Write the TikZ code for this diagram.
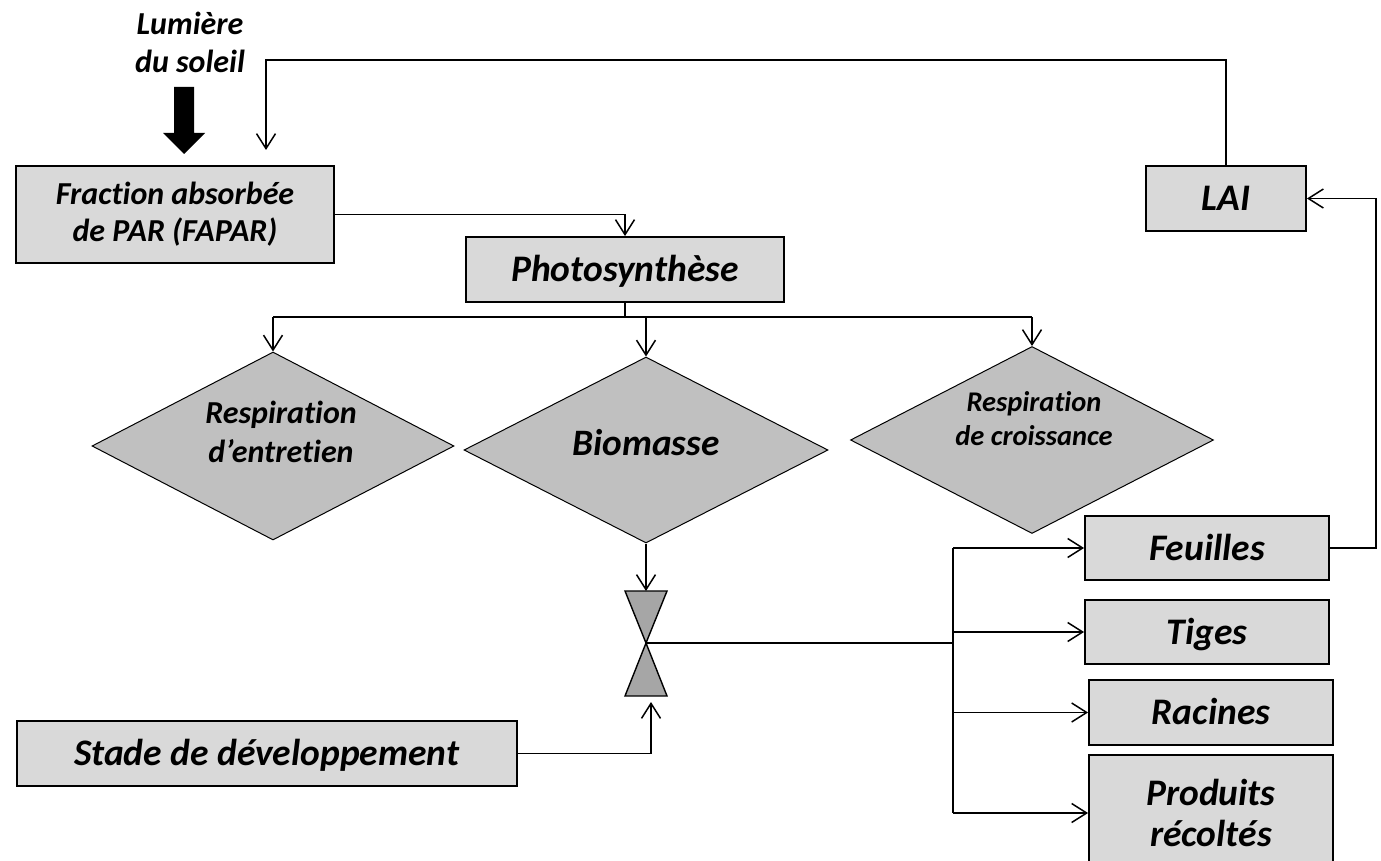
\documentclass[tikz,border=0pt]{standalone}
\usepackage{fontspec}
\setmainfont{Carlito}[Ligatures=CommonOff]
\usetikzlibrary{arrows.meta,shapes.geometric}
\definecolor{boxgray}{HTML}{D9D9D9}
\definecolor{diagray}{HTML}{C0C0C0}
\definecolor{valvegray}{HTML}{A6A6A6}
\begin{document}
\begin{tikzpicture}[x=1pt,y=-1pt,
  boxnode/.style={draw=black, line width=1.9pt, fill=boxgray, inner sep=0pt, align=center,
    font=\bfseries\itshape\fontsize{37.5}{41}\selectfont},
  single/.style={text height=24.5pt, text depth=0pt},
  dia/.style={diamond, draw=black, line width=1pt, fill=diagray, inner sep=0pt},
  lbl/.style={align=center, inner sep=0pt},
  conn/.style={line width=1.5pt, -{Straight Barb[length=15pt,width=19pt,line width=1.5pt]}},
  plain/.style={line width=1.5pt},
  valve/.style={draw=black, line width=1.4pt, fill=valvegray, line join=miter}
]
\useasboundingbox (0,0) rectangle (1381,861);
\clip (0,0) rectangle (1381,861);

% sunlight
\node[lbl, font=\bfseries\itshape\fontsize{32}{38}\selectfont] (sun) at (190,42) {Lumière\\du soleil};
\fill[black] (174,87) -- (194,87) -- (194,133) -- (205,133) -- (184,154) -- (163,133) -- (174,133) -- cycle;

% boxes
\node[boxnode, minimum width=318pt, minimum height=97pt, font=\bfseries\itshape\fontsize{32}{37}\selectfont] (fapar) at (175,214.5) {Fraction absorbée\\de PAR (FAPAR)};
\node[boxnode, single, minimum width=318pt, minimum height=65pt] (photo) at (625,269.5) {Photosynthèse};
\node[boxnode, single, minimum width=160pt, minimum height=65pt, font=\bfseries\itshape\fontsize{37.5}{40}\selectfont] (lai) at (1226,198.5) {LAI};
\node[boxnode, single, minimum width=244pt, minimum height=64pt] (feuilles) at (1207,548) {Feuilles};
\node[boxnode, single, minimum width=244pt, minimum height=64pt] (tiges) at (1207,632) {Tiges};
\node[boxnode, single, minimum width=244pt, minimum height=65pt] (racines) at (1211,712.5) {Racines};
\node[boxnode, minimum width=244pt, minimum height=116pt] (produits) at (1211,813) {Produits\\récoltés};
\node[boxnode, single, minimum width=500pt, minimum height=65pt] (stade) at (266.75,753.5) {Stade de développement};

% diamonds
\node[dia, minimum width=362pt, minimum height=188pt] (entretien) at (273,446) {};
\node[dia, minimum width=364pt, minimum height=186pt] (bio) at (646,450) {};
\node[dia, minimum width=363pt, minimum height=187pt] (croissance) at (1032,440) {};
\node[lbl, font=\bfseries\itshape\fontsize{32}{39}\selectfont] (entretienT) at (281,432) {Respiration\\d’entretien};
\node[lbl, single, font=\bfseries\itshape\fontsize{37.3}{40}\selectfont] (bioT) at (646,443) {Biomasse};
\node[lbl, font=\bfseries\itshape\fontsize{28.5}{34}\selectfont] (croissanceT) at (1034,419) {Respiration\\de croissance};

% valve (bow tie)
\coordinate (valvetop) at (646,591);
\coordinate (valve) at (646,643);
\coordinate (valvein) at (651,702);
\draw[valve] (625,591) -- (667,591) -- (valve) -- cycle;
\draw[valve] (valve) -- (625,696) -- (667,696) -- cycle;

% connectors
\coordinate (faparin) at (266,150);
\coordinate (laitop) at (1226,60);
\draw[conn] (lai.north) -- (laitop) -| (faparin);
\draw[conn] (fapar.east) -| (photo.north);

\coordinate (split) at (625,317);
\draw[plain] (photo.south) -- (split);
\draw[plain] (entretien.north |- split) -- (croissance.north |- split);
\draw[conn] (entretien.north |- split) -- (entretien.north);
\draw[conn] (bio.north |- split) -- (bio.north);
\draw[conn] (croissance.north |- split) -- (croissance.north);

\draw[conn] (bio.south) -- (valvetop);
\draw[conn] (stade.east) -| (valvein);

\coordinate (bus) at (953,643);
\draw[plain] (valve) -- (bus);
\draw[plain] (bus |- feuilles.west) -- (bus |- produits.west);
\draw[conn] (bus |- feuilles.west) -- (feuilles.west);
\draw[conn] (bus |- tiges.west) -- (tiges.west);
\draw[conn] (bus |- racines.west) -- (racines.west);
\draw[conn] (bus |- produits.west) -- (produits.west);

\coordinate (rightx) at (1376,548);
\draw[conn] (feuilles.east) -- (rightx) |- (lai.east);
\end{tikzpicture}
\end{document}
